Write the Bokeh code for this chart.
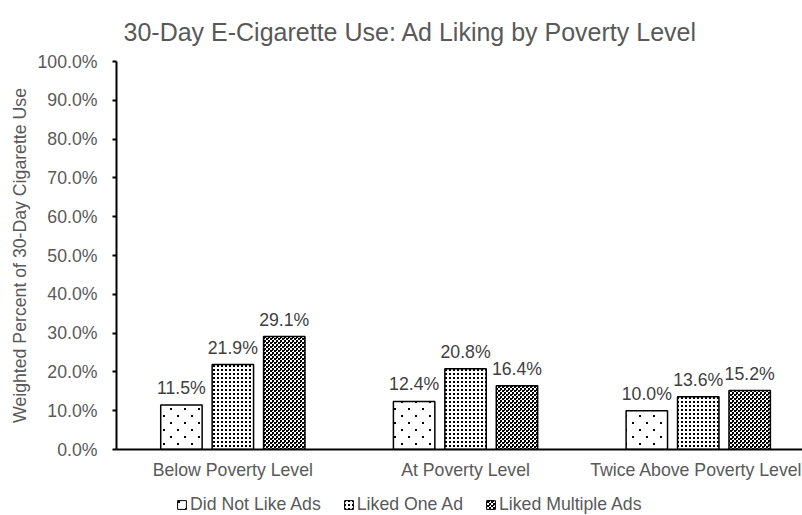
from bokeh.plotting import figure
from bokeh.models import (ColumnDataSource, Range1d, FixedTicker, Legend, LegendItem,
                          LabelSet, CanvasTexture)
from bokeh.layouts import column
from bokeh.core.properties import value
from bokeh.embed import file_html
from bokeh.resources import INLINE

categories = ["Below Poverty Level", "At Poverty Level", "Twice Above Poverty Level"]
series = ["Did Not Like Ads", "Liked One Ad", "Liked Multiple Ads"]
did_not_like = [11.5, 12.4, 10.0]
liked_one = [21.9, 20.8, 13.6]
liked_multiple = [29.1, 16.4, 15.2]
y_ticks = [0, 10, 20, 30, 40, 50, 60, 70, 80, 90, 100]

values = [did_not_like, liked_one, liked_multiple]
centers = [i + 0.5 for i in range(len(categories))]
offsets = [-0.221, 0.0, 0.221]

textures = {
    "sparse": CanvasTexture(code=(
        "ctx.canvas.width = 14; ctx.canvas.height = 14; ctx.fillStyle = '#000000';"
        "ctx.fillRect(2, 2, 2, 2); ctx.fillRect(9, 9, 2, 2);")),
    "dense": CanvasTexture(code=(
        "ctx.canvas.width = 4; ctx.canvas.height = 4; ctx.fillStyle = '#000000';"
        "ctx.fillRect(1, 1, 2, 2);")),
    "checker": CanvasTexture(code=(
        "ctx.canvas.width = 4; ctx.canvas.height = 4; ctx.fillStyle = '#000000';"
        "ctx.fillRect(0, 0, 2, 2); ctx.fillRect(2, 2, 2, 2); ctx.fillRect(0, 2, 1, 1);")),
}
patterns = [("sparse", 14), ("dense", 4), ("checker", 4)]

FONT = "Liberation Sans"
GREY = "#595959"
FS = "17.7px"

p = figure(frame_width=686, frame_height=388, output_backend="svg", toolbar_location=None,
           x_range=Range1d(0, 2.948), y_range=Range1d(0, 100),
           min_border_left=116, min_border_right=0, min_border_top=61, min_border_bottom=36)
p.title.text = "30-Day E-Cigarette Use: Ad Liking by Poverty Level"
p.title.text_font = FONT
p.title.text_font_size = "25px"
p.title.text_font_style = "normal"
p.title.text_color = GREY
p.title.align = "left"
p.title.offset = 7
p.title.standoff = 31
p.outline_line_color = None
p.grid.visible = False

# legend strip below the chart (bars drawn off-view so only the legend shows)
lf = figure(width=802, height=30, output_backend="svg", toolbar_location=None,
            x_range=Range1d(0, 1), y_range=Range1d(1000, 1001), x_axis_type=None,
            y_axis_type=None, min_border=0, outline_line_color=None)
lf.grid.visible = False

items = []
for s, vals, off, (pat, sc) in zip(series, values, offsets, patterns):
    src = ColumnDataSource(dict(x=[c + off for c in centers], top=vals,
                                lab=[f"{v:.1f}%" for v in vals]))
    p.vbar(x="x", top="top", width=0.178, source=src, fill_color="white",
           line_color="black", line_width=1.5, hatch_pattern=value(pat), hatch_scale=sc,
           hatch_extra=textures, hatch_color="black")
    p.add_layout(LabelSet(x="x", y="top", text="lab", source=src, text_align="center",
                          text_baseline="bottom", y_offset=7, text_font=value(FONT),
                          text_font_size=FS, text_color="#404040"))
    r = lf.vbar(x="x", top="top", width=0.178, source=src, fill_color="white",
                line_color="black", line_width=1, hatch_pattern=value(pat), hatch_scale=sc,
                hatch_extra=textures, hatch_color="black")
    items.append(LegendItem(label=s, renderers=[r]))

p.yaxis.ticker = FixedTicker(ticks=y_ticks)
p.yaxis.major_label_overrides = {t: f"{t:.1f}%" for t in y_ticks}
p.yaxis.axis_label = "Weighted Percent of 30-Day Cigarette Use"
p.yaxis.axis_label_text_font = FONT
p.yaxis.axis_label_text_font_size = FS
p.yaxis.axis_label_text_font_style = "normal"
p.yaxis.axis_label_text_color = GREY
p.yaxis.axis_line_width = 2
p.yaxis.axis_line_color = "black"
p.yaxis.major_tick_out = 4
p.yaxis.major_tick_in = 0
p.yaxis.major_tick_line_width = 2
p.yaxis.minor_tick_line_color = None
p.yaxis.major_label_standoff = 15
p.yaxis.axis_label_standoff = 5

p.xaxis.ticker = FixedTicker(ticks=centers)
p.xaxis.major_label_overrides = {c: n for c, n in zip(centers, categories)}
p.xaxis.axis_line_width = 2
p.xaxis.axis_line_color = "black"
p.xaxis.major_tick_line_color = None
p.xaxis.major_tick_out = 0
p.xaxis.major_tick_in = 0
p.xaxis.minor_tick_line_color = None
p.xaxis.major_label_standoff = 10

for ax in (p.xaxis, p.yaxis):
    ax.major_label_text_font = FONT
    ax.major_label_text_font_size = FS
    ax.major_label_text_color = GREY

legend = Legend(items=items, orientation="horizontal", location=(60, 0),
                label_text_font=FONT, label_text_font_size=FS, label_text_color=GREY,
                glyph_width=11, glyph_height=11, label_standoff=3, spacing=22,
                border_line_color=None, background_fill_alpha=0, padding=0, margin=0)
lf.add_layout(legend)

layout = column(p, lf, spacing=0)
open("out.html", "w").write(file_html(layout, INLINE))
